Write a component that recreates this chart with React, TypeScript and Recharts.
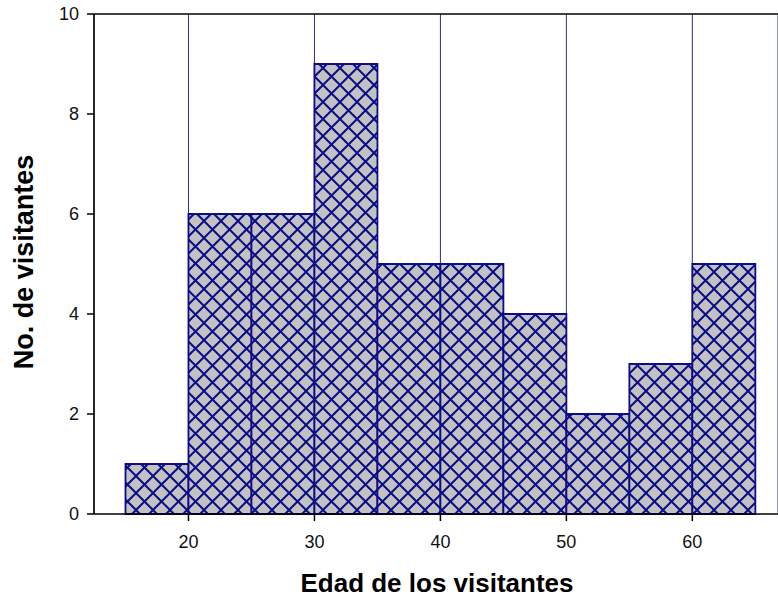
import React from "react";
import {
  ComposedChart,
  Bar,
  XAxis,
  YAxis,
  CartesianGrid,
  ReferenceLine,
} from "recharts";

// histogram bins (edad) and counts
const binStarts = [15, 20, 25, 30, 35, 40, 45, 50, 55, 60];
const binWidth = 5;
const counts = [1, 6, 6, 9, 5, 5, 4, 2, 3, 5];
const xTicks = [20, 30, 40, 50, 60];
const yTicks = [0, 2, 4, 6, 8, 10];

const NAVY = "#0c0c88";
const FONT = "Arial, 'Liberation Sans', sans-serif";

const rows = binStarts.map((s, i) => ({ mid: s + binWidth / 2, count: counts[i] }));

const W = 778;
const H = 600;
const TILE = 17;

function YLabel(props: any) {
  const vb = props.viewBox;
  const cx = 33;
  const cy = vb.y + vb.height / 2 - 2;
  return (
    <text
      x={cx}
      y={cy}
      transform={`rotate(-90, ${cx}, ${cy})`}
      textAnchor="middle"
      fontFamily={FONT}
      fontWeight="bold"
      fontSize={27}
      fill="#000"
    >
      No. de visitantes
    </text>
  );
}

function XLabel() {
  return (
    <text
      x={437}
      y={592}
      textAnchor="middle"
      fontFamily={FONT}
      fontWeight="bold"
      fontSize={26}
      fill="#000"
    >
      Edad de los visitantes
    </text>
  );
}

export default function App() {
  return (
    <div style={{ position: "absolute", left: 0, top: 0, width: W, height: H, background: "#fff" }}>
      <ComposedChart
        width={W}
        height={H}
        data={rows}
        barCategoryGap={0}
        barGap={0}
        margin={{ top: 14, right: 0, bottom: 0, left: 0 }}
      >
        <defs>
          <pattern id="hatch" patternUnits="userSpaceOnUse" width={TILE} height={TILE} x={0} y={0}>
            <rect width={TILE} height={TILE} fill="#c2c2c2" />
            <path
              d={`M-1,-1 L${TILE + 1},${TILE + 1} M${TILE + 1},-1 L-1,${TILE + 1}`}
              stroke={NAVY}
              strokeWidth={2}
            />
          </pattern>
        </defs>
        <CartesianGrid horizontal={false} stroke="#2e2e78" strokeWidth={1} />
        <XAxis
          type="number"
          dataKey="mid"
          domain={[12.5, 66.8]}
          ticks={xTicks}
          allowDataOverflow
          height={86}
          tickSize={7}
          tickMargin={14}
          axisLine={{ stroke: "#000", strokeWidth: 1.5 }}
          tickLine={{ stroke: "#000", strokeWidth: 1.5 }}
          tick={{ fontFamily: FONT, fontSize: 18, fill: "#111" }}
          label={<XLabel />}
        />
        <YAxis
          type="number"
          domain={[0, 10]}
          ticks={yTicks}
          width={94}
          tickSize={7}
          tickMargin={8}
          axisLine={{ stroke: "#000", strokeWidth: 1.5 }}
          tickLine={{ stroke: "#000", strokeWidth: 1.5 }}
          tick={{ fontFamily: FONT, fontSize: 18, fill: "#111" }}
          label={<YLabel />}
        />
        <ReferenceLine y={10} stroke="#000" strokeWidth={1.5} />
        <Bar
          dataKey="count"
          fill="url(#hatch)"
          stroke={NAVY}
          strokeWidth={1.8}
          isAnimationActive={false}
        />
      </ComposedChart>
    </div>
  );
}
